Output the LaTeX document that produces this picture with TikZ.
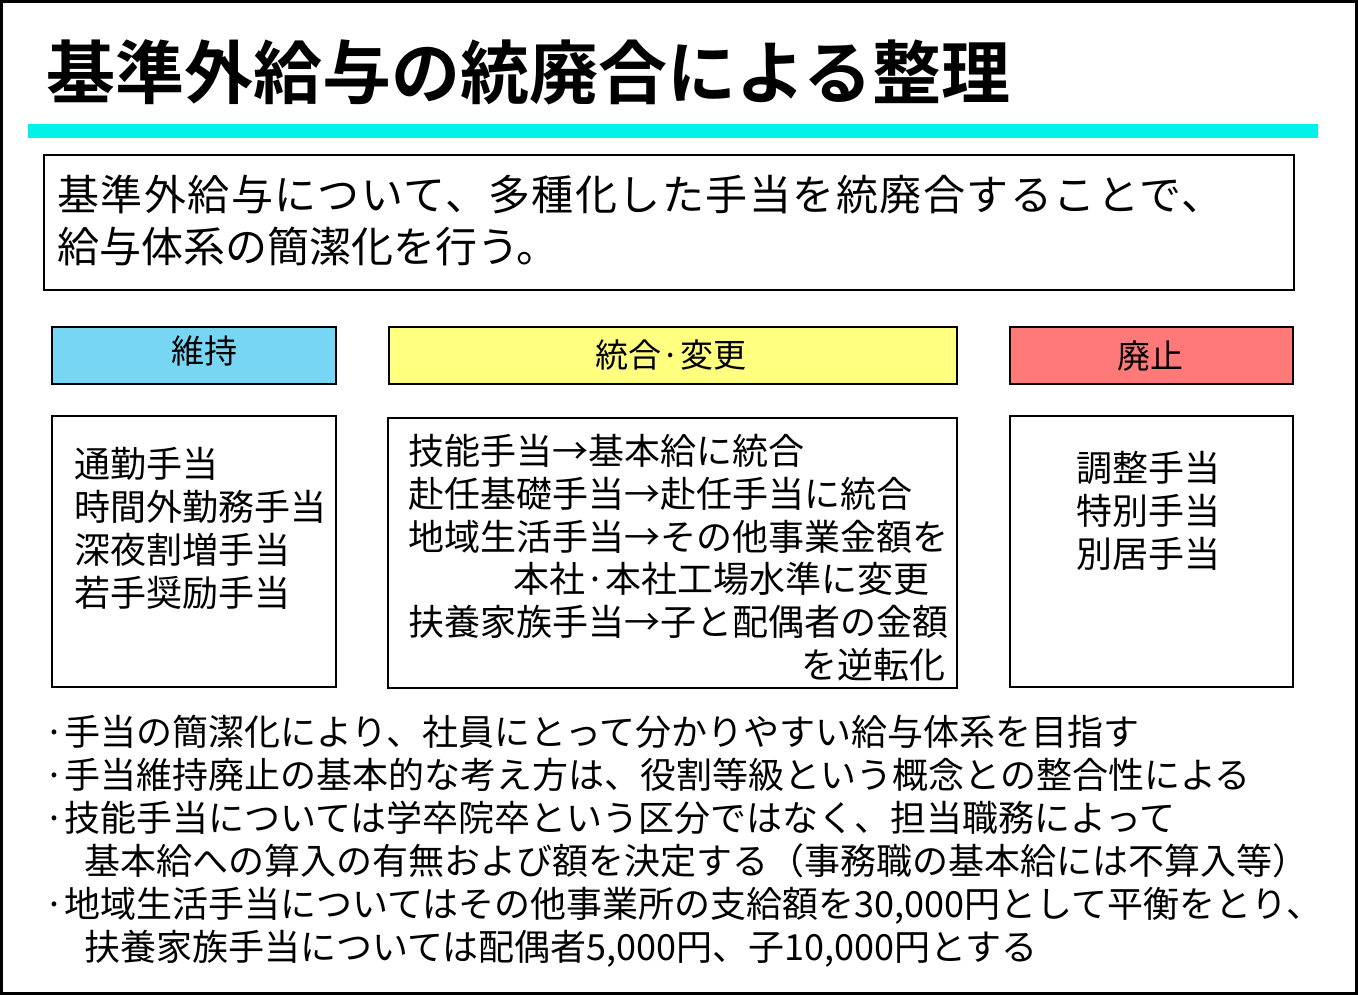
\documentclass[tikz,border=0pt]{standalone}
\usepackage{fontspec}
\newfontfamily\jp{Noto Sans CJK JP}
\newfontfamily\jpwide[LetterSpace=3.5]{Noto Sans CJK JP}
\newfontfamily\jpbold{Noto Sans CJK JP Bold}
\definecolor{barcyan}{HTML}{00F2E8}
\definecolor{hblue}{HTML}{78D6F5}
\definecolor{hyellow}{HTML}{FFFF80}
\definecolor{hred}{HTML}{FF7979}
\tikzset{
  txt/.style={inner sep=0pt, anchor=base west, font=\jp\fontsize{36}{43}\selectfont},
  txtr/.style={inner sep=0pt, anchor=base east, font=\jp\fontsize{36}{43}\selectfont},
  hdr/.style={inner sep=0pt, anchor=base, font=\jp\fontsize{33}{40}\selectfont},
  frame/.style={draw=black, line width=2pt},
}
\begin{document}
\begin{tikzpicture}[x=1pt,y=-1pt]
\useasboundingbox (0,0) rectangle (1358,995);
\draw[line width=3pt] (1.5,1.5) rectangle (1356.5,993.5);
% title
\node[inner sep=0pt, anchor=base west, font=\jpbold\fontsize{69}{80}\selectfont] (title) at (46,99) {基準外給与の統廃合による整理};
\fill[barcyan] (28,124) rectangle (1318,138);
% intro box
\draw[frame] (44,155) rectangle (1294,290);
\node[txt, font=\jpwide\fontsize{42}{50}\selectfont] (intro1) at (57,211) {基準外給与について、多種化した手当を統廃合することで、};
\node[txt, font=\jp\fontsize{42}{50}\selectfont] (intro2) at (57,263) {給与体系の簡潔化を行う。};
% headers
\draw[frame, fill=hblue] (52,327) rectangle (336,384);
\draw[frame, fill=hyellow] (389,327) rectangle (957,384);
\draw[frame, fill=hred] (1010,327) rectangle (1293,384);
\node[hdr] (h1) at (204,363) {維持};
\node[hdr] (h2) at (671,367) {統合·変更};
\node[hdr] (h3) at (1150,368) {廃止};
% content boxes
\draw[frame] (52,416) rectangle (336,687);
\draw[frame] (388,418) rectangle (957,688);
\draw[frame] (1010,416) rectangle (1293,687);
\node[txt] (l1) at (74,477) {通勤手当};
\node[txt] (l2) at (74,520) {時間外勤務手当};
\node[txt] (l3) at (74,563) {深夜割増手当};
\node[txt] (l4) at (74,606) {若手奨励手当};
\node[txt] (m1) at (408,464) {技能手当→基本給に統合};
\node[txt] (m2) at (408,507) {赴任基礎手当→赴任手当に統合};
\node[txt] (m3) at (408,550) {地域生活手当→その他事業金額を};
\node[txtr] (m4) at (930,592) {本社·本社工場水準に変更};
\node[txt] (m5) at (408,635) {扶養家族手当→子と配偶者の金額};
\node[txtr] (m6) at (946,678) {を逆転化};
\node[txt] (r1) at (1076,481) {調整手当};
\node[txt] (r2) at (1076,524) {特別手当};
\node[txt] (r3) at (1076,567) {別居手当};
% bullets
\node[txt] (b1) at (44,745) {·手当の簡潔化により、社員にとって分かりやすい給与体系を目指す};
\node[txt] (b2) at (44,788) {·手当維持廃止の基本的な考え方は、役割等級という概念との整合性による};
\node[txt] (b3) at (44,831) {·技能手当については学卒院卒という区分ではなく、担当職務によって};
\node[txt] (b4) at (84,874) {基本給への算入の有無および額を決定する（事務職の基本給には不算入等）};
\node[txt] (b5) at (44,917) {·地域生活手当についてはその他事業所の支給額を30,000円として平衡をとり、};
\node[txt] (b6) at (84,960) {扶養家族手当については配偶者5,000円、子10,000円とする};
\end{tikzpicture}
\end{document}
